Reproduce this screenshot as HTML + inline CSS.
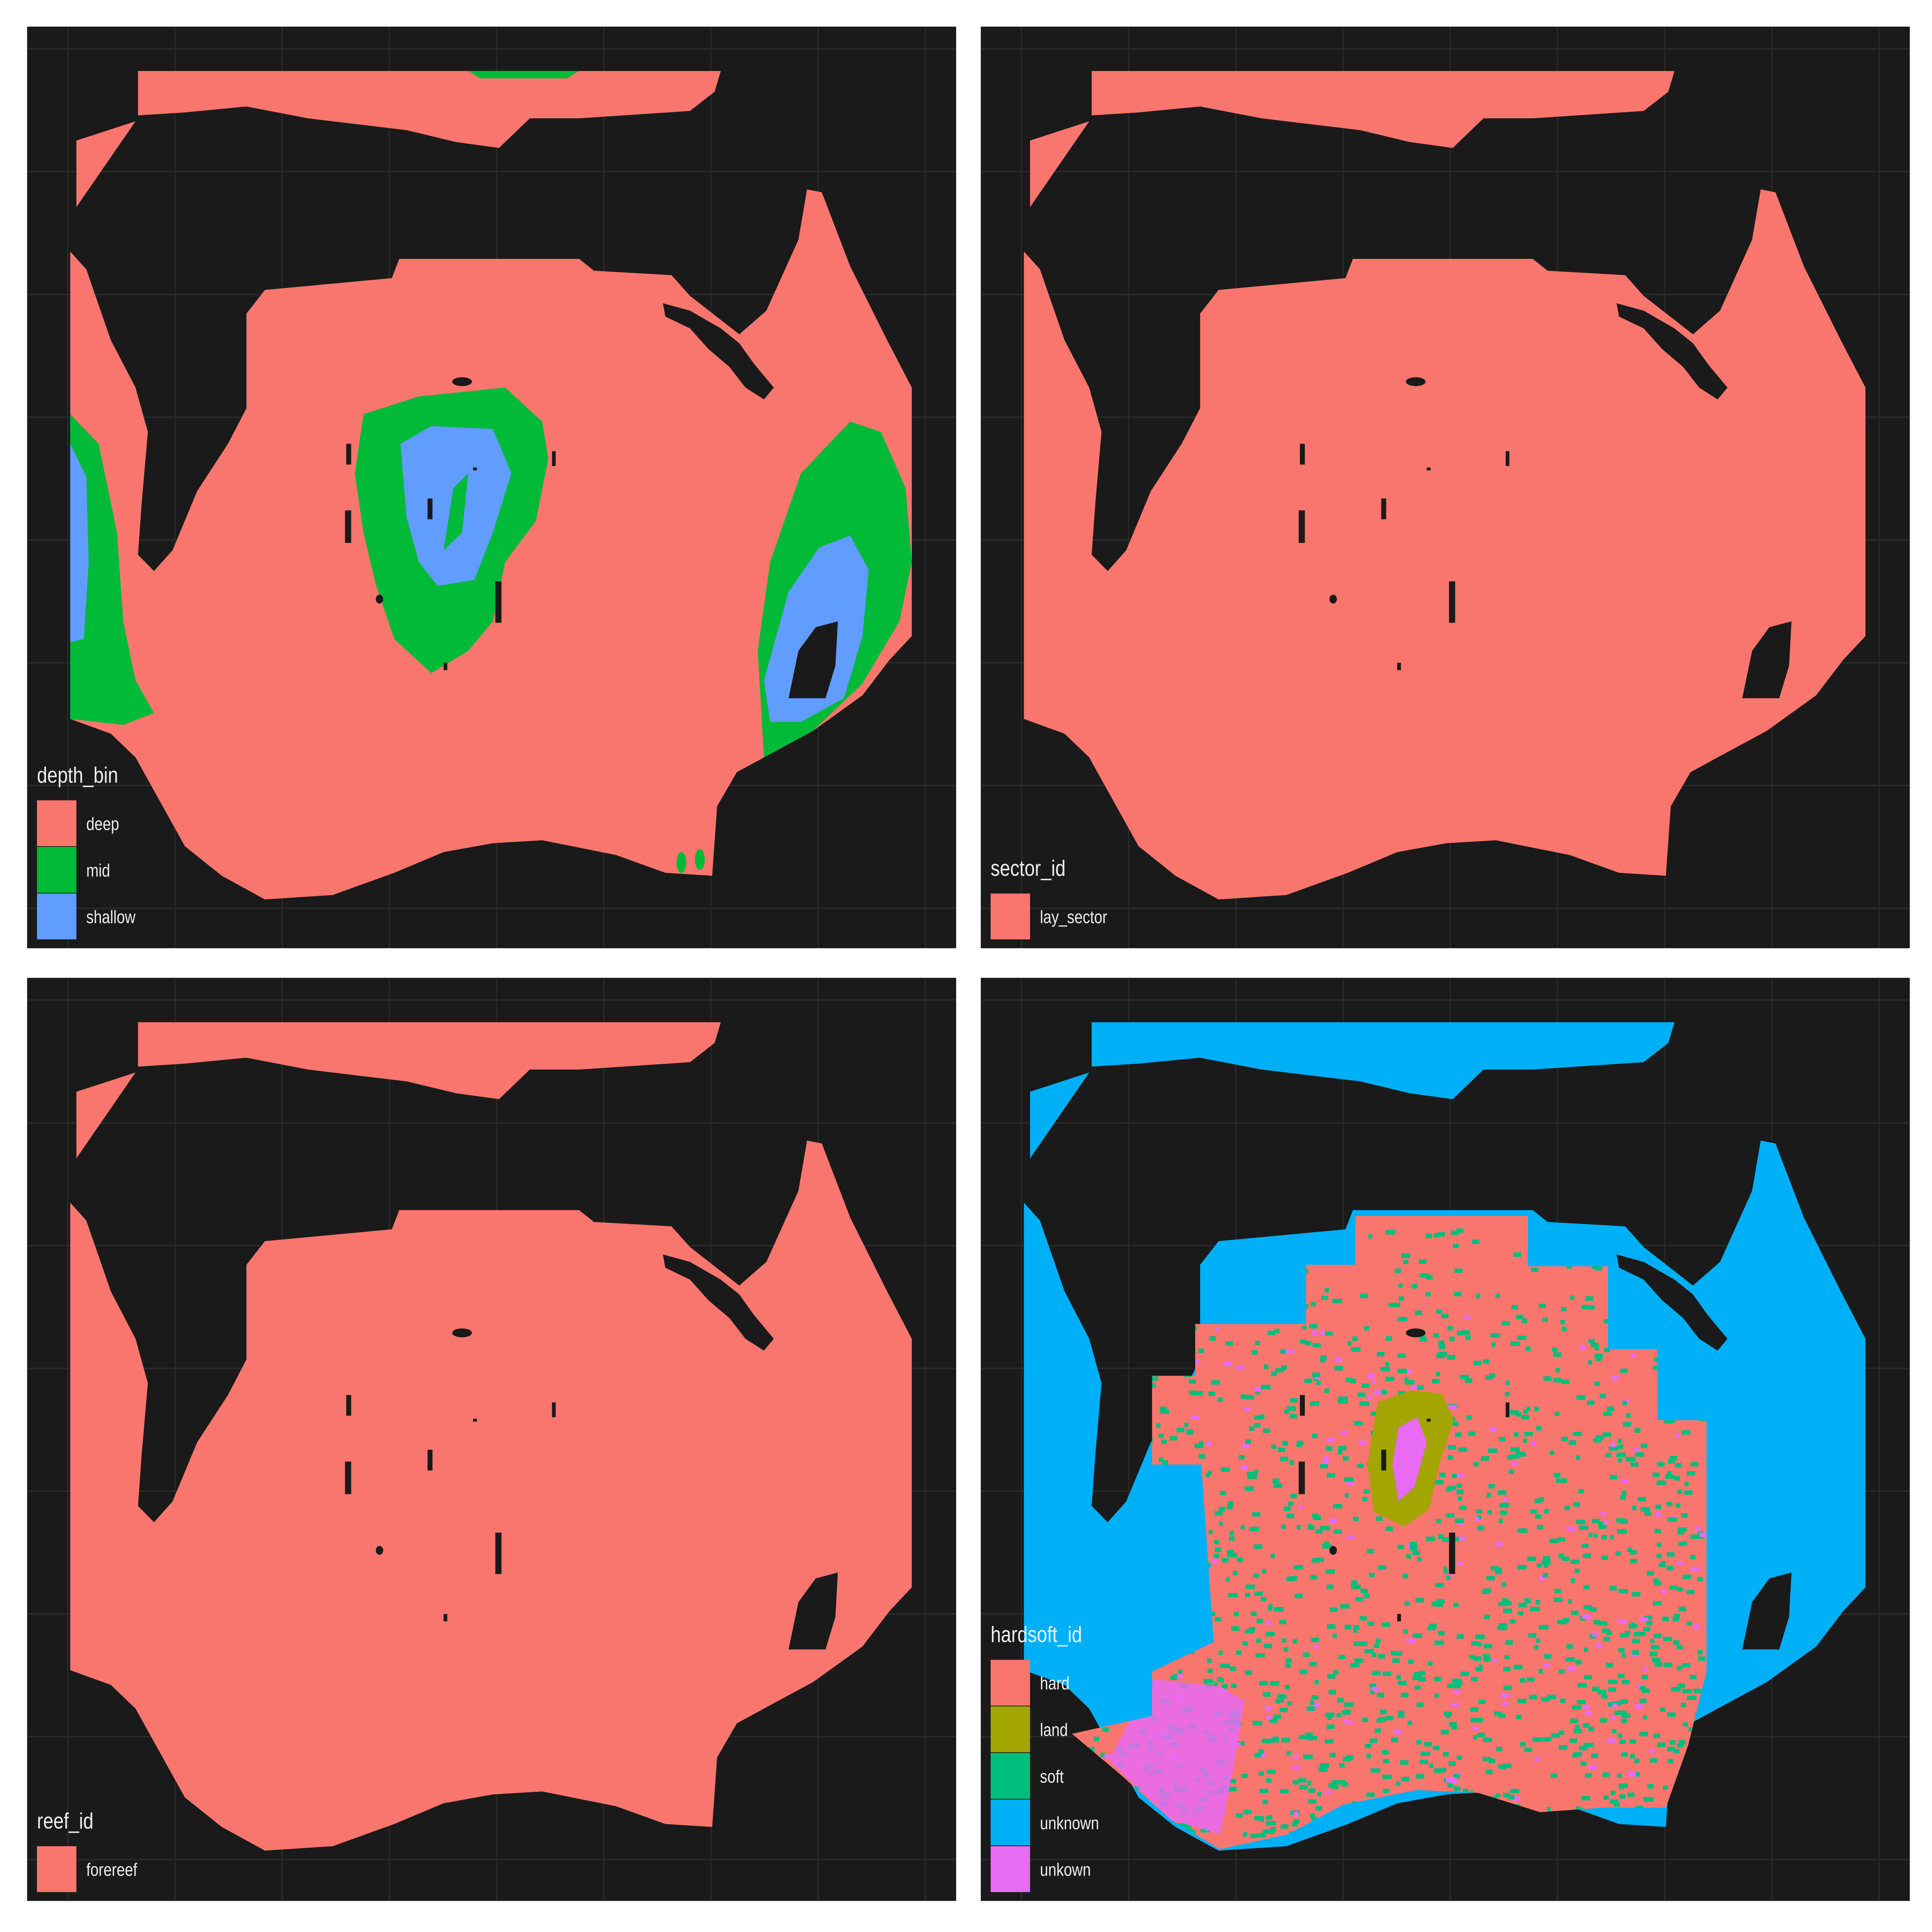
<!DOCTYPE html>
<html><head><meta charset="utf-8">
<style>
html,body{margin:0;padding:0;background:#fff;width:100%;height:100%;overflow:hidden;}
svg{display:block;position:fixed;left:0;top:0;width:100vw;height:100vh;}
text{font-family:"Liberation Sans",Arial,sans-serif;fill:#eeeeee;}
</style></head>
<body>
<svg id="fig" viewBox="0 0 1568 1306" preserveAspectRatio="none" xmlns="http://www.w3.org/2000/svg">
<defs>
<path id="body" d="M57,170 L70,182 L90,230 L110,262 L120,292 L115,340 L112,375 L125,386 L140,372 L160,332 L185,300 L200,276 L200,212 L215,196 L318,188 L324,175 L470,175 L482,183 L545,186 L560,200 L600,226 L622,210 L648,162 L655,128 L667,130 L690,180 L720,230 L740,262 L740,430 L722,446 L700,470 L660,494 L620,512 L598,522 L582,545 L578,592 L540,590 L500,578 L440,568 L400,570 L360,576 L320,590 L270,605 L215,608 L180,592 L150,572 L130,542 L110,512 L90,496 L57,486 Z"/>
<path id="strip" d="M112,48 L585,48 L580,62 L560,75 L470,80 L430,80 L405,100 L370,96 L330,88 L250,80 L200,72 L150,76 L112,78 Z"/>
<path id="tri" d="M62,95 L110,82 L62,140 Z"/>
<g id="holes" fill="#1a1a1a">
<path d="M640,472 L648,440 L662,424 L680,420 L678,450 L670,472 Z"/>
<path d="M538,205 L560,210 L585,222 L600,232 L612,246 L628,262 L620,270 L605,262 L592,248 L575,236 L560,222 L540,214 Z"/>
<ellipse cx="375" cy="258" rx="8" ry="3"/>
<rect x="281" y="300" width="4" height="14"/><rect x="280" y="345" width="5" height="22"/>
<rect x="347" y="337" width="4" height="14"/><rect x="402" y="393" width="5" height="28"/>
<circle cx="308" cy="405" r="3"/><rect x="448" y="305" width="3" height="10"/>
<rect x="360" y="448" width="3" height="5"/><rect x="384" y="316" width="3" height="2"/>
</g>
<clipPath id="hsclip"><polygon points="1100,822 1240,822 1240,856 1305,856 1305,912 1345,912 1345,960 1385,960 1385,1130 1370,1180 1352,1222 1300,1222 1250,1225 1200,1212 1150,1210 1090,1220 1045,1240 990,1250 950,1230 910,1200 870,1172 935,1160 935,1130 985,1110 975,990 935,990 935,930 970,930 970,895 1060,895 1060,855 1100,855"/></clipPath>
</defs>

<g>
<rect x="22" y="18" width="754" height="623" fill="#1a1a1a"/>
<g class="grid" stroke="#2a2a2a" stroke-width="1"></g>
<g fill="#f8766d"><use href="#strip"/><use href="#tri"/><use href="#body"/></g>
<path d="M380,48 L470,48 L460,53 L390,53 Z" fill="#00ba38"/>
<path d="M57,280 L80,300 L95,360 L100,420 L110,460 L125,482 L100,490 L57,486 Z" fill="#00ba38"/>
<path d="M57,300 L70,322 L72,380 L68,432 L57,434 Z" fill="#619cff"/>
<path d="M295,280 L340,268 L410,262 L440,285 L445,310 L435,352 L410,380 L400,420 L380,440 L350,455 L320,432 L305,395 L295,360 L288,320 Z" fill="#00ba38"/>
<path d="M325,300 L350,288 L400,290 L415,320 L400,360 L385,392 L355,396 L340,380 L330,350 Z" fill="#619cff"/>
<path d="M368,330 L380,320 L375,360 L360,372 Z" fill="#00ba38"/>
<path d="M620,512 L615,440 L625,380 L650,320 L690,285 L715,292 L735,330 L740,380 L730,420 L700,462 L660,494 Z" fill="#00ba38"/>
<path d="M625,488 L620,460 L640,400 L665,370 L690,362 L705,385 L700,430 L685,472 L650,488 Z" fill="#619cff"/>
<use href="#holes"/>
<ellipse cx="553" cy="583" rx="4" ry="7" fill="#00ba38"/><ellipse cx="568" cy="581" rx="4" ry="7" fill="#00ba38"/>
</g>

<g>
<rect x="796" y="18" width="754" height="623" fill="#1a1a1a"/>
<g class="grid" stroke="#2a2a2a" stroke-width="1"></g>
<g transform="translate(774,0)"><g fill="#f8766d"><use href="#strip"/><use href="#tri"/><use href="#body"/></g><use href="#holes"/></g>
</g>

<g>
<rect x="22" y="661" width="754" height="624" fill="#1a1a1a"/>
<g class="grid" stroke="#2a2a2a" stroke-width="1"></g>
<g transform="translate(0,643)"><g fill="#f8766d"><use href="#strip"/><use href="#tri"/><use href="#body"/></g><use href="#holes"/></g>
</g>

<g>
<rect x="796" y="661" width="754" height="624" fill="#1a1a1a"/>
<g class="grid" stroke="#2a2a2a" stroke-width="1"></g>
<g transform="translate(774,643)" fill="#00b0f6"><use href="#strip"/><use href="#tri"/><use href="#body"/></g>
<g clip-path="url(#hsclip)">
<rect x="860" y="820" width="540" height="440" fill="#f8766d"/>
<g id="speckle"></g>
<path d="M935,1135 L990,1140 L1010,1150 L1000,1200 L990,1240 L950,1230 L900,1190 Z" fill="#e76bf3" opacity="0.85"/>
</g>
<path d="M1118,948 L1145,940 L1170,942 L1180,960 L1168,990 L1160,1020 L1140,1032 L1115,1022 L1110,990 Z" fill="#a3a500"/>
<path d="M1135,965 L1150,958 L1158,975 L1148,1005 L1135,1015 L1130,990 Z" fill="#e76bf3"/>
<g transform="translate(774,643)"><use href="#holes"/></g>
</g>

<g id="legends"></g>
</svg>
<script>
const depthCats=["deep","mid","shallow"];
const depthCols=["#f8766d","#00ba38","#619cff"];
const sectorCats=["lay_sector"];
const reefCats=["forereef"];
const hardCats=["hard","land","soft","unknown","unkown"];
const hardCols=["#f8766d","#a3a500","#00bf7d","#00b0f6","#e76bf3"];
const NS="http://www.w3.org/2000/svg";
document.querySelectorAll('.grid').forEach(g=>{
  const r=g.previousElementSibling;
  const x0=+r.getAttribute('x'),y0=+r.getAttribute('y'),w=+r.getAttribute('width'),h=+r.getAttribute('height');
  for(let x=x0+33;x<x0+w;x+=87){const l=document.createElementNS(NS,'line');l.setAttribute('x1',x);l.setAttribute('x2',x);l.setAttribute('y1',y0);l.setAttribute('y2',y0+h);g.appendChild(l);}
  for(let y=y0+15;y<y0+h;y+=83){const l=document.createElementNS(NS,'line');l.setAttribute('y1',y);l.setAttribute('y2',y);l.setAttribute('x1',x0);l.setAttribute('x2',x0+w);g.appendChild(l);}
});
let s=12345;function rnd(){s=(s*1103515245+12345)%2147483648;return s/2147483648;}
const sp=document.getElementById('speckle');
for(let i=0;i<2600;i++){
  const x=880+rnd()*500,y=830+rnd()*420;
  const dy=(y-830)/420;
  if(rnd()>0.35+dy*0.5)continue;
  const r=document.createElementNS(NS,'rect');
  r.setAttribute('x',x.toFixed(1));r.setAttribute('y',y.toFixed(1));
  r.setAttribute('width',3+rnd()*5);r.setAttribute('height',3);
  r.setAttribute('fill',rnd()<0.9?'#00bf7d':'#e76bf3');
  sp.appendChild(r);
}
function legend(x,yTitle,title,cats,cols){
  const lg=document.getElementById('legends');
  const g=document.createElementNS(NS,'g');
  
  
  const t=document.createElementNS(NS,'text');
  t.setAttribute('x',x);t.setAttribute('y',yTitle);t.setAttribute('font-size','15');t.textContent=title;
  
  
  g.appendChild(t);
  cats.forEach((c,i)=>{
    const y=yTitle+12+i*31.5;
    const r=document.createElementNS(NS,'rect');
    r.setAttribute('x',x);r.setAttribute('y',y);r.setAttribute('width',32);r.setAttribute('height',31);r.setAttribute('fill',cols[i]);
    
    
    g.appendChild(r);
    const tt=document.createElementNS(NS,'text');
    tt.setAttribute('x',x+40);tt.setAttribute('y',y+20);tt.setAttribute('font-size','12');tt.textContent=c;
    
    
    g.appendChild(tt);
  });
  lg.appendChild(g);
}
legend(30,529,"depth_bin",depthCats,depthCols);
legend(804,592,"sector_id",sectorCats,["#f8766d"]);
legend(30,1236,"reef_id",reefCats,["#f8766d"]);
legend(804,1110,"hardsoft_id",hardCats,hardCols);
</script>
</body></html>
